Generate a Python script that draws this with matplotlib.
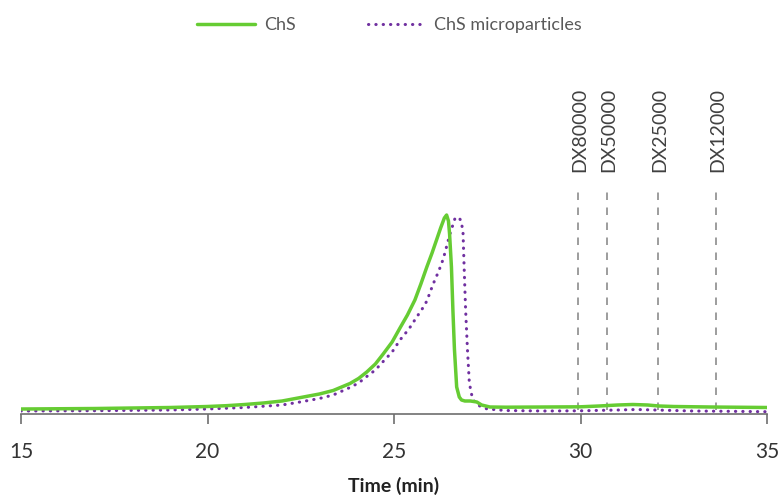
import matplotlib
matplotlib.use("Agg")
import matplotlib.pyplot as plt

plt.rcParams['font.family'] = ['Lato', 'DejaVu Sans']

# ChS (green solid)
chs_t = [15, 17, 19, 20, 20.5, 21, 21.5, 22, 22.5, 23, 23.37, 23.82, 24.05, 24.27, 24.5,
         24.71, 24.95, 25.16, 25.36, 25.56, 25.72, 25.88, 26.02, 26.14, 26.25, 26.35,
         26.41, 26.46, 26.49, 26.54, 26.58, 26.62, 26.68, 26.75, 26.81, 26.9, 27.05,
         27.22, 27.35, 27.57, 28, 29, 30, 30.5, 31, 31.4, 31.8, 32.1, 32.5, 33.5, 35]
chs_v = [5, 5.5, 6.5, 7.5, 8.3, 9.5, 11, 13, 16.5, 20, 23.5, 30.5, 35.5, 42, 50,
         60, 72, 86, 99, 114, 130, 147, 161, 174, 186, 196,
         199, 193, 180, 147, 103, 65, 27, 17, 14, 13, 13,
         12, 9, 7, 6.8, 7, 7.2, 8, 9, 9.5, 9, 8, 7.5, 7, 6.5]

# ChS microparticles (purple dotted)
mp_t = [15, 17, 19, 20, 21, 22, 22.48, 23, 23.37, 23.82, 24.05, 24.27, 24.5, 24.71, 24.95,
        25.16, 25.4, 25.61, 25.79, 25.88, 26.05, 26.2, 26.32, 26.5, 26.63, 26.73, 26.8,
        26.85, 26.88, 26.92, 26.97, 27.02, 27.1, 27.2, 27.35, 27.5, 28, 29, 30, 31, 31.5,
        32, 33, 34, 35]
mp_v = [3, 3.3, 4, 5, 6.5, 9, 12, 15.5, 19, 26.5, 31, 37.5, 44, 52.5, 62,
        74, 85, 97, 107, 113, 130, 143, 155, 180, 195, 197, 193,
        182, 147, 104, 64, 31, 16, 10, 7, 5, 3.5, 3, 3.2, 4, 4.5,
        4, 3, 2.7, 2.3]

# Dextran standards
dx_labels = ['DX80000', 'DX50000', 'DX25000', 'DX12000']
dx_times = [29.94, 30.72, 32.07, 33.62]

W, H = 779, 498
fig = plt.figure(figsize=(W / 100, H / 100), dpi=100)
base_px = 414
top_px = 60
ax = fig.add_axes([21 / W, (H - base_px) / H, (767 - 21) / W, (base_px - top_px) / H])
ax.set_xlim(15, 35)
ax.set_ylim(0, base_px - top_px)

green = '#66CC33'
purple = '#7030A0'
ax.plot(chs_t, chs_v, color=green, lw=2.5, label='ChS', solid_joinstyle='round',
        solid_capstyle='round', zorder=3)
ax.plot(mp_t, mp_v, color=purple, lw=2.2, linestyle=(0, (0.1, 2.3)),
        dash_capstyle='round', label='ChS microparticles', zorder=2)

for lab, t in zip(dx_labels, dx_times):
    ax.plot([t, t], [4, 229], color='#8c8c8c', lw=1.2, linestyle=(0, (4.5, 4.5)), zorder=1)
    ax.text(t + 0.05, 242, lab, rotation=90, ha='center', va='bottom',
            fontsize=14, color='#404040', clip_on=False)

for s in ['top', 'right', 'left']:
    ax.spines[s].set_visible(False)
ax.spines['bottom'].set_color('#6e6e6e')
ax.spines['bottom'].set_linewidth(1.2)
ax.set_yticks([])
ax.set_xticks([15, 20, 25, 30, 35])
ax.tick_params(axis='x', direction='out', length=7, width=1.2, color='#6e6e6e',
               labelsize=15, labelcolor='#333333', pad=13)
ax.set_xlabel('Time (min)', fontsize=14, fontweight='bold', color='#222222', labelpad=11)

leg = fig.legend(loc='center', bbox_to_anchor=(0.5, 1 - 25 / H), ncol=2, frameon=False,
                 fontsize=13, handlelength=3.2, handletextpad=0.5, columnspacing=4.0)
for t in leg.get_texts():
    t.set_color('#595959')

fig.savefig('out.png', dpi=100)
